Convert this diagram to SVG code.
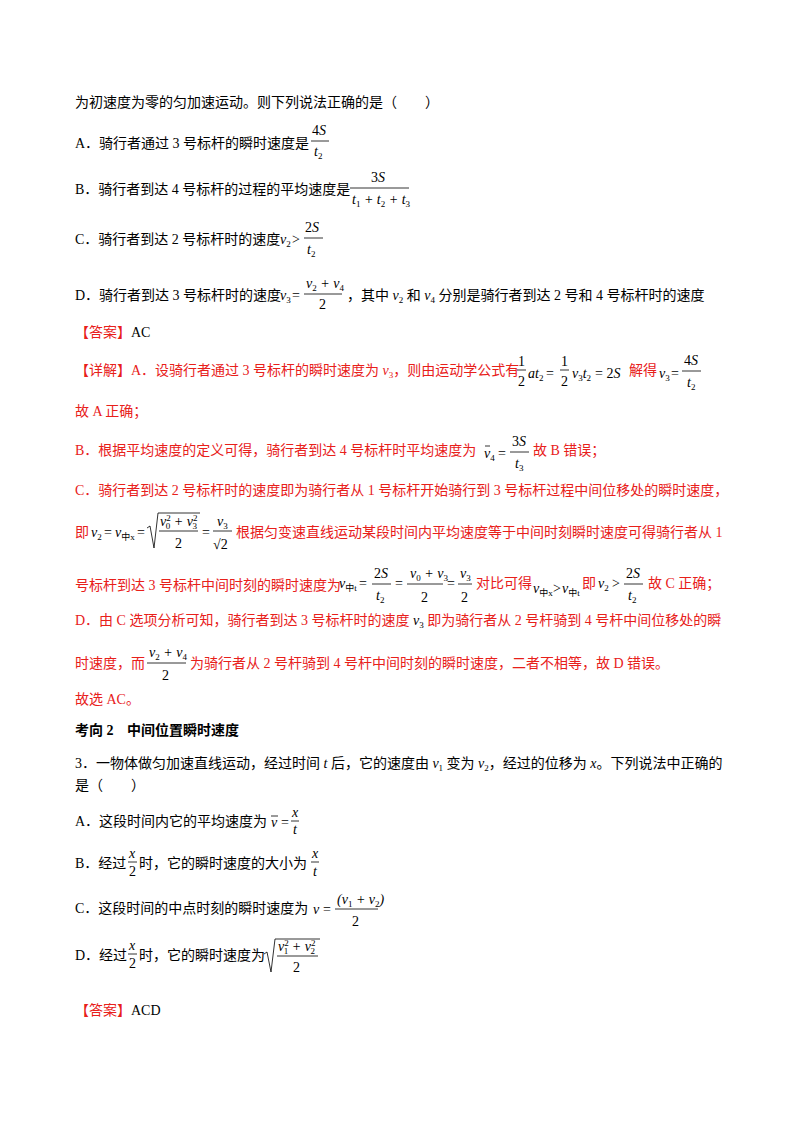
<svg xmlns="http://www.w3.org/2000/svg" width="800" height="1132" viewBox="0 0 800 1132">
<style>
text{font-family:"Liberation Serif","Noto Sans CJK SC",serif;font-size:14px;fill:#000}
.r{fill:#e8201a}
.i{font-style:italic}
.s{font-size:9px;baseline-shift:-3px;font-style:normal}
.p{font-size:9px;font-style:normal}
.b{font-weight:bold}
line{stroke:#000;stroke-width:0.8}
</style>
<rect width="800" height="1132" fill="#fff"/>
<g id="question">
<text x="75" y="107">为初速度为零的匀加速运动。则下列说法正确的是（　　）</text>
<text x="75" y="148">A．骑行者通过 3 号标杆的瞬时速度是</text>
<text x="312" y="135">4<tspan class="i">S</tspan></text><line x1="311" y1="141" x2="329" y2="141"/><text x="314" y="156" class="i">t<tspan class="s">2</tspan></text>
<text x="75" y="194">B．骑行者到达 4 号标杆的过程的平均速度是</text>
<text x="371" y="182">3<tspan class="i">S</tspan></text><line x1="350" y1="188" x2="409" y2="188"/><text x="352" y="204" class="i">t<tspan class="s">1</tspan> + t<tspan class="s">2</tspan> + t<tspan class="s">3</tspan></text>
<text x="75" y="244">C．骑行者到达 2 号标杆时的速度</text><text x="280" y="244" class="i">v<tspan class="s">2</tspan></text><text x="292" y="244">&gt;</text>
<text x="305" y="232">2<tspan class="i">S</tspan></text><line x1="304" y1="238" x2="323" y2="238"/><text x="307" y="254" class="i">t<tspan class="s">2</tspan></text>
<text x="75" y="300">D．骑行者到达 3 号标杆时的速度</text><text x="280" y="300" class="i">v<tspan class="s">3</tspan></text><text x="292" y="300">=</text>
<text x="306" y="288" class="i">v<tspan class="s">2</tspan> + v<tspan class="s">4</tspan></text><line x1="304" y1="294" x2="342" y2="294"/><text x="319" y="309">2</text>
<text x="347" y="300">，其中 <tspan class="i">v</tspan><tspan class="s">2</tspan> 和 <tspan class="i">v</tspan><tspan class="s">4</tspan> 分别是骑行者到达 2 号和 4 号标杆时的速度</text>
<text x="75" y="337" class="r">【答案】<tspan fill="#000">AC</tspan></text>
</g>
<g id="solution">
<text x="75" y="375" class="r">【详解】A．设骑行者通过 3 号标杆的瞬时速度为 <tspan class="i">v</tspan><tspan class="s">3</tspan>，则由运动学公式有</text>
<text x="518" y="366">1</text><line x1="517" y1="370" x2="526" y2="370"/><text x="518" y="386">2</text>
<text x="528" y="378" class="i">at<tspan class="s">2</tspan></text><text x="546" y="378">=</text>
<text x="561" y="366">1</text><line x1="560" y1="370" x2="569" y2="370"/><text x="561" y="386">2</text>
<text x="572" y="378" class="i">v<tspan class="s">3</tspan>t<tspan class="s">2</tspan></text><text x="595" y="378">= 2<tspan class="i">S</tspan></text>
<text x="629" y="375" class="r">解得</text><text x="659" y="378" class="i">v<tspan class="s">3</tspan></text><text x="671" y="378">=</text>
<text x="684" y="365">4<tspan class="i">S</tspan></text><line x1="682" y1="371" x2="701" y2="371"/><text x="687" y="387" class="i">t<tspan class="s">2</tspan></text>
<text x="75" y="416" class="r">故 A 正确；</text>
<text x="75" y="455" class="r">B．根据平均速度的定义可得，骑行者到达 4 号标杆时平均速度为</text>
<text x="484" y="458" class="i">v<tspan class="s">4</tspan></text><line x1="485" y1="446" x2="490" y2="446"/><text x="498" y="458">=</text>
<text x="512" y="446">3<tspan class="i">S</tspan></text><line x1="510" y1="452" x2="529" y2="452"/><text x="515" y="468" class="i">t<tspan class="s">3</tspan></text>
<text x="533" y="455" class="r">故 B 错误；</text>
<text x="75" y="495" class="r">C．骑行者到达 2 号标杆时的速度即为骑行者从 1 号标杆开始骑行到 3 号标杆过程中间位移处的瞬时速度，</text>
<text x="75" y="537" class="r">即</text>
<text x="91" y="537" class="i">v<tspan class="s">2</tspan></text><text x="104" y="537">=</text>
<text x="115" y="537" class="i">v<tspan class="s">中x</tspan></text><text x="137" y="537">=</text>
<path d="M147 528 L150 526 L154 548 L158 513 L200 513" fill="none" stroke="#000" stroke-width="0.8"/>
<text x="160" y="526" class="i">v<tspan class="p" dy="-5">2</tspan><tspan class="p" dx="-5" dy="8">0</tspan><tspan dy="-3"> + v</tspan><tspan class="p" dy="-5">2</tspan><tspan class="p" dx="-5" dy="8">3</tspan></text>
<line x1="159" y1="531" x2="198" y2="531"/><text x="175" y="548">2</text>
<text x="202" y="537">=</text>
<text x="217" y="526" class="i">v<tspan class="s">3</tspan></text><line x1="213" y1="531" x2="232" y2="531"/><text x="213" y="549">√2</text>
<text x="236" y="537" class="r">根据匀变速直线运动某段时间内平均速度等于中间时刻瞬时速度可得骑行者从 1</text>
<text x="75" y="590" class="r">号标杆到达 3 号标杆中间时刻的瞬时速度为</text>
<text x="339" y="588" class="i">v<tspan class="s">中t</tspan></text><text x="359" y="588">=</text>
<text x="374" y="578">2<tspan class="i">S</tspan></text><line x1="372" y1="584" x2="391" y2="584"/><text x="376" y="600" class="i">t<tspan class="s">2</tspan></text>
<text x="395" y="588">=</text>
<text x="410" y="578" class="i">v<tspan class="s">0</tspan> + v<tspan class="s">3</tspan></text><line x1="407" y1="584" x2="443" y2="584"/><text x="421" y="602">2</text>
<text x="447" y="588">=</text>
<text x="460" y="578" class="i">v<tspan class="s">3</tspan></text><line x1="458" y1="584" x2="472" y2="584"/><text x="461" y="602">2</text>
<text x="476" y="588" class="r">对比可得</text>
<text x="533" y="593" class="i" font-size="11">v<tspan class="s">中x</tspan></text><text x="553" y="593" font-size="11">&gt;</text><text x="562" y="593" class="i" font-size="11">v<tspan class="s">中t</tspan></text>
<text x="582" y="588" class="r">即</text><text x="598" y="588" class="i">v<tspan class="s">2</tspan></text><text x="612" y="588">&gt;</text>
<text x="626" y="578">2<tspan class="i">S</tspan></text><line x1="624" y1="584" x2="643" y2="584"/><text x="628" y="600" class="i">t<tspan class="s">2</tspan></text>
<text x="648" y="588" class="r">故 C 正确；</text>
<text x="75" y="625" class="r">D．由 C 选项分析可知，骑行者到达 3 号标杆时的速度 <tspan class="i" fill="#000">v</tspan><tspan class="s" fill="#000">3</tspan> 即为骑行者从 2 号杆骑到 4 号杆中间位移处的瞬</text>
<text x="75" y="668" class="r">时速度，而</text>
<text x="149" y="657" class="i">v<tspan class="s">2</tspan> + v<tspan class="s">4</tspan></text><line x1="147" y1="663" x2="186" y2="663"/><text x="162" y="680">2</text>
<text x="190" y="668" class="r">为骑行者从 2 号杆骑到 4 号杆中间时刻的瞬时速度，二者不相等，故 D 错误。</text>
<text x="75" y="704" class="r">故选 AC。</text>
</g>
<g id="q3">
<text x="75" y="735" class="b">考向 2</text><text x="127" y="735" class="b">中间位置瞬时速度</text>
<text x="75" y="768">3．一物体做匀加速直线运动，经过时间 <tspan class="i">t</tspan> 后，它的速度由 <tspan class="i">v</tspan><tspan class="s">1</tspan> 变为 <tspan class="i">v</tspan><tspan class="s">2</tspan>，经过的位移为 <tspan class="i">x</tspan>。下列说法中正确的</text>
<text x="75" y="790">是（　　）</text>
<text x="75" y="826">A．这段时间内它的平均速度为</text>
<text x="271" y="827" class="i">v</text><line x1="271" y1="816" x2="278" y2="816"/><text x="281" y="827">=</text>
<text x="292" y="817" class="i">x</text><line x1="291" y1="821" x2="299" y2="821"/><text x="293" y="834" class="i">t</text>
<text x="75" y="868">B．经过</text>
<text x="129" y="858" class="i">x</text><line x1="128" y1="862" x2="137" y2="862"/><text x="129" y="876">2</text>
<text x="139" y="868">时，它的瞬时速度的大小为</text>
<text x="312" y="858" class="i">x</text><line x1="311" y1="862" x2="319" y2="862"/><text x="313" y="876" class="i">t</text>
<text x="75" y="913">C．这段时间的中点时刻的瞬时速度为</text>
<text x="313" y="914" class="i">v</text><text x="323" y="914">=</text>
<text x="337" y="904" class="i">(v<tspan class="s">1</tspan> + v<tspan class="s">2</tspan>)</text><line x1="335" y1="909" x2="378" y2="909"/><text x="352" y="926">2</text>
<text x="75" y="960">D．经过</text>
<text x="129" y="950" class="i">x</text><line x1="128" y1="954" x2="137" y2="954"/><text x="129" y="968">2</text>
<text x="139" y="960">时，它的瞬时速度为</text>
<path d="M264 954 L267 952 L271 972 L275 939 L320 939" fill="none" stroke="#000" stroke-width="0.8"/>
<text x="278" y="951" class="i">v<tspan class="p" dy="-5">2</tspan><tspan class="p" dx="-5" dy="8">1</tspan><tspan dy="-3"> + v</tspan><tspan class="p" dy="-5">2</tspan><tspan class="p" dx="-5" dy="8">2</tspan></text>
<line x1="277" y1="956" x2="318" y2="956"/><text x="293" y="972">2</text>
<text x="75" y="1015" class="r">【答案】<tspan fill="#000">ACD</tspan></text>
</g>
</svg>
